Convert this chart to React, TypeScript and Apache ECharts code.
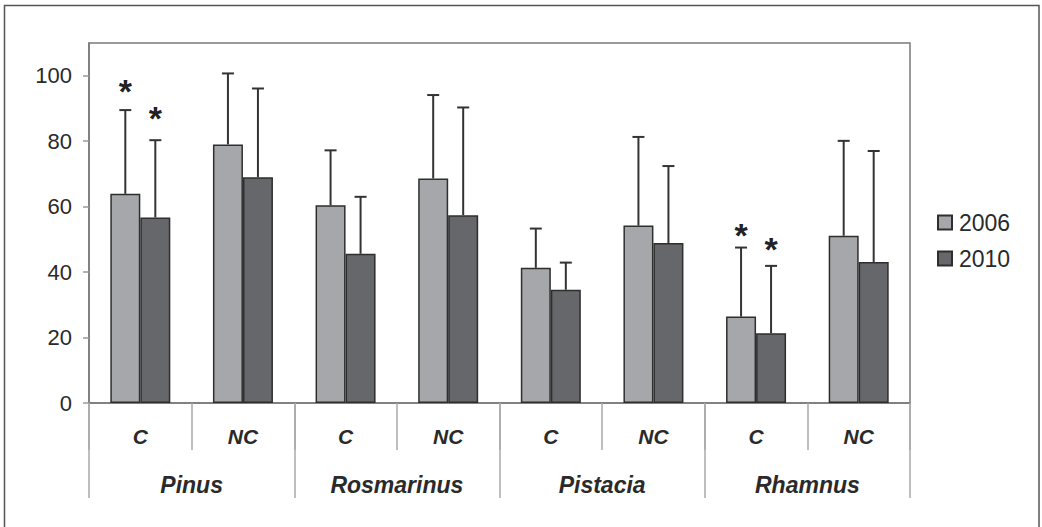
import React, { useEffect, useRef } from "react";
import * as echarts from "echarts";

const subCategories = ["C", "NC", "C", "NC", "C", "NC", "C", "NC"];
const species = ["Pinus", "Rosmarinus", "Pistacia", "Rhamnus"];
const years = ["2006", "2010"];
const mean2006 = [63.9, 79.0, 60.4, 68.6, 41.3, 54.2, 26.4, 51.1];
const mean2010 = [56.7, 69.0, 45.6, 57.4, 34.6, 48.9, 21.3, 43.1];
const errTop2006 = [89.5, 100.7, 77.2, 94.1, 53.3, 81.3, 47.5, 80.1];
const errTop2010 = [80.3, 96.1, 63.0, 90.3, 42.9, 72.4, 41.9, 77.0];
const star2006: (number | null)[] = [97.2, null, null, null, null, null, 53.3, null];
const star2010: (number | null)[] = [89.0, null, null, null, null, null, 48.9, null];
const yTicks = [0, 20, 40, 60, 80, 100];

const FONT = "'Liberation Sans', Arial, sans-serif";

function errSeries(means: number[], tops: number[], stars: (number | null)[], offset: number) {
  return {
    type: "custom",
    xAxisIndex: 0,
    yAxisIndex: 0,
    encode: { x: 0, y: [1, 2] },
    data: means.map((m, i) => [i, tops[i], m, stars[i] == null ? "-" : stars[i]]),
    renderItem: (params: any, api: any) => {
      const i = api.value(0);
      const top = api.value(1);
      const base = api.value(2);
      const star = api.value(3);
      const p1 = api.coord([i, base]);
      const p2 = api.coord([i, top]);
      const cx = p1[0] + offset;
      const st = { stroke: "#333", lineWidth: 2 };
      const children: any[] = [
        { type: "line", shape: { x1: cx, y1: p1[1], x2: cx, y2: p2[1] }, style: st },
        { type: "line", shape: { x1: cx - 6, y1: p2[1], x2: cx + 6, y2: p2[1] }, style: st },
      ];
      if (typeof star === "number" && !isNaN(star)) {
        const ps = api.coord([i, star]);
        children.push({
          type: "text",
          x: cx,
          y: ps[1] + 6,
          style: {
            text: "*",
            fontFamily: FONT,
            fontSize: 34,
            fontWeight: "bold",
            fill: "#222",
            align: "center",
            verticalAlign: "middle",
          },
        });
      }
      return { type: "group", children };
    },
    z: 3,
  };
}

export default function App() {
  const ref = useRef<HTMLDivElement>(null);
  useEffect(() => {
    if (!ref.current) return;
    const chart = echarts.init(ref.current, undefined, { renderer: "svg" });
    const option: any = {
      animation: false,
      backgroundColor: "#fff",
      graphic: [
        {
          type: "rect",
          shape: { x: 4.5, y: 5.5, width: 1034.5, height: 540 },
          style: { fill: "none", stroke: "#555", lineWidth: 1.5 },
          silent: true,
        },
      ],
      grid: {
        left: 89,
        right: 132,
        top: 43,
        bottom: 124,
        show: true,
        borderColor: "#7a7a7a",
        borderWidth: 1.5,
        backgroundColor: "transparent",
      },
      legend: {
        data: years,
        orient: "vertical",
        left: 937,
        top: 211,
        padding: 0,
        itemWidth: 14,
        itemHeight: 14,
        itemGap: 13,
        icon: "rect",
        textStyle: { fontFamily: FONT, fontSize: 23, color: "#2a2a2a", padding: [0, 0, 0, 2] },
      },
      xAxis: [
        {
          type: "category",
          data: subCategories,
          position: "bottom",
          axisLine: { show: true, lineStyle: { color: "#7a7a7a", width: 1.5 } },
          axisTick: { show: true, interval: 0, length: 47, lineStyle: { color: "#a8a8a8", width: 1.5 } },
          axisLabel: {
            interval: 0,
            margin: 23,
            fontFamily: FONT,
            fontSize: 21,
            fontWeight: "bold",
            fontStyle: "italic",
            color: "#2a2a2a",
          },
        },
        {
          type: "category",
          data: species,
          position: "bottom",
          offset: 0,
          axisLine: { show: false },
          axisTick: { show: true, interval: 0, length: 95, lineStyle: { color: "#a8a8a8", width: 1.5 } },
          axisLabel: {
            interval: 0,
            margin: 70,
            fontFamily: FONT,
            fontSize: 23,
            fontWeight: "bold",
            fontStyle: "italic",
            color: "#2a2a2a",
          },
        },
      ],
      yAxis: {
        type: "value",
        min: 0,
        max: 110,
        splitLine: { show: false },
        axisLine: { show: true, lineStyle: { color: "#7a7a7a", width: 1.5 } },
        axisTick: { show: true, length: 6, customValues: yTicks, lineStyle: { color: "#999", width: 1.5 } },
        axisLabel: {
          customValues: yTicks,
          margin: 17,
          fontFamily: FONT,
          fontSize: 22,
          color: "#2a2a2a",
        },
      },
      series: [
        {
          name: "2006",
          type: "bar",
          data: mean2006,
          barWidth: 30,
          barGap: "0%",
          itemStyle: { color: "#a6a7aa", borderColor: "#2e2e2e", borderWidth: 1.5 },
          z: 2,
        },
        {
          name: "2010",
          type: "bar",
          data: mean2010,
          barWidth: 30,
          barGap: "0%",
          itemStyle: { color: "#66676b", borderColor: "#2e2e2e", borderWidth: 1.5 },
          z: 2,
        },
        errSeries(mean2006, errTop2006, star2006, -15),
        errSeries(mean2010, errTop2010, star2010, 15),
      ],
    };
    chart.setOption(option);
    return () => chart.dispose();
  }, []);
  return (
    <div
      ref={ref}
      style={{ position: "fixed", left: 0, top: 0, width: 1042, height: 527, background: "#fff" }}
    />
  );
}
